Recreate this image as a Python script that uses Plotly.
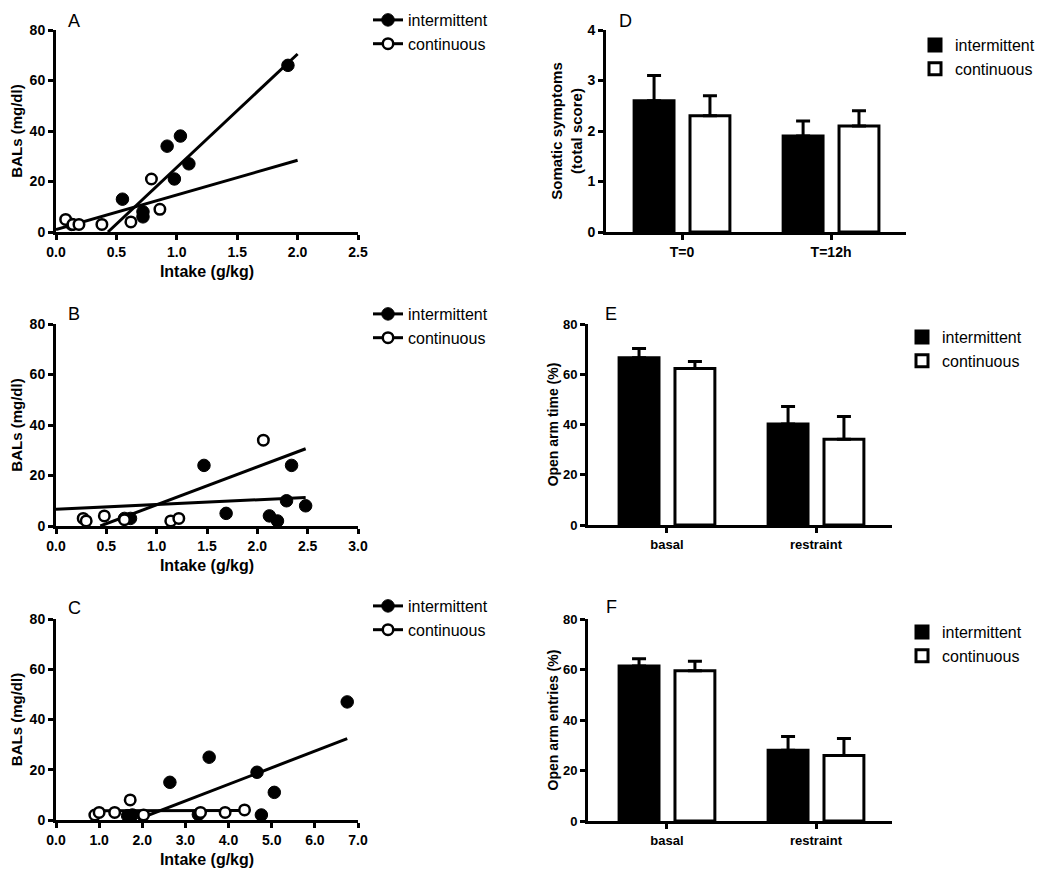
import plotly.graph_objects as go

FONT = "Liberation Sans, Arial, Helvetica, sans-serif"
W, H = 1050, 875
OFF = 8  # page body margin offset

# ---------------- data ----------------
series_names = ["intermittent", "continuous"]

# Panel A
A_int_x = [0.13, 0.55, 0.72, 0.72, 0.92, 0.98, 1.03, 1.10, 1.92]
A_int_y = [3, 13, 8, 6, 34, 21, 38, 27, 66]
A_con_x = [0.08, 0.14, 0.19, 0.38, 0.62, 0.79, 0.86]
A_con_y = [5, 3, 3, 3, 4, 21, 9]
A_int_fit_x = [0.43, 2.0]
A_int_fit_y = [0.0, 70.5]
A_con_fit_x = [0.0, 2.0]
A_con_fit_y = [1.0, 28.4]

# Panel B
B_int_x = [0.68, 0.74, 1.47, 1.69, 2.12, 2.20, 2.29, 2.34, 2.48]
B_int_y = [3, 3, 24, 5, 4, 2, 10, 24, 8]
B_con_x = [0.27, 0.30, 0.48, 0.68, 1.14, 1.22, 2.06]
B_con_y = [3, 2, 4, 2.5, 2, 3, 34]
B_int_fit_x = [0.0, 2.48]
B_int_fit_y = [6.6, 11.3]
B_con_fit_x = [0.44, 2.48]
B_con_fit_y = [0.0, 30.6]

# Panel C
C_int_x = [1.66, 1.77, 2.64, 3.30, 3.55, 4.66, 4.76, 5.06, 6.75]
C_int_y = [1.7, 2, 15, 2.2, 25, 19, 2, 11, 47]
C_con_x = [0.90, 1.00, 1.36, 1.72, 2.03, 3.35, 3.92, 4.37]
C_con_y = [2, 3, 3, 8, 2, 3, 3, 4]
C_int_fit_x = [1.9, 6.75]
C_int_fit_y = [0.3, 32.4]
C_con_fit_x = [0.9, 4.37]
C_con_fit_y = [3.7, 3.8]

# Panel D
D_cats = ["T=0", "T=12h"]
D_int = [2.6, 1.9]
D_int_err = [0.5, 0.3]
D_con = [2.3, 2.1]
D_con_err = [0.4, 0.3]

# Panels E, F
EF_cats = ["basal", "restraint"]
E_int = [66.6, 40.2]
E_int_err = [3.6, 7.0]
E_con = [62.3, 34.1]
E_con_err = [2.8, 9.1]
F_int = [61.4, 28.0]
F_int_err = [2.9, 5.5]
F_con = [59.5, 25.9]
F_con_err = [3.8, 6.8]

# ---------------- helpers ----------------
def fx(p):
    return (p - OFF) / W

def fy(p):
    return 1 - (p - OFF) / H

def dx(a, b):
    return [fx(a), fx(b)]

def dy(top, bottom):
    return [fy(bottom), fy(top)]

fig = go.Figure()

marker_int = dict(symbol="circle", size=12.5, color="black", line=dict(color="black", width=1))
marker_con = dict(symbol="circle", size=10.5, color="white", line=dict(color="black", width=2.5))

scatter_panels = [
    dict(n="", ix=A_int_x, iy=A_int_y, cx=A_con_x, cy=A_con_y,
         ifx=A_int_fit_x, ify=A_int_fit_y, cfx=A_con_fit_x, cfy=A_con_fit_y,
         xr=[0, 2.5], xd=0.5, domx=(56, 358), domy=(30, 232), leg=(368, 3)),
    dict(n="2", ix=B_int_x, iy=B_int_y, cx=B_con_x, cy=B_con_y,
         ifx=B_int_fit_x, ify=B_int_fit_y, cfx=B_con_fit_x, cfy=B_con_fit_y,
         xr=[0, 3.0], xd=0.5, domx=(56, 358), domy=(324, 526), leg=(368, 297)),
    dict(n="3", ix=C_int_x, iy=C_int_y, cx=C_con_x, cy=C_con_y,
         ifx=C_int_fit_x, ify=C_int_fit_y, cfx=C_con_fit_x, cfy=C_con_fit_y,
         xr=[0, 7.0], xd=1.0, domx=(56, 358), domy=(619, 820), leg=(368, 589)),
]

letter_pos = {"A": (74, 21), "B": (74, 314), "C": (74, 608),
              "D": (625, 21), "E": (611, 314), "F": (611, 607)}

axis_common = dict(showline=True, linewidth=3, linecolor="black", showgrid=False,
                   zeroline=False, ticks="outside", ticklen=5, tickwidth=2.5,
                   tickcolor="black", mirror=False, automargin=False,
                   tickfont=dict(family=FONT, size=14, color="black", weight="bold"))

legends = {}
for p in scatter_panels:
    n = p["n"]
    xa, ya = "x" + n, "y" + n
    lg = "legend" + n
    # fit lines
    fig.add_trace(go.Scatter(x=p["ifx"], y=p["ify"], mode="lines", xaxis=xa, yaxis=ya,
                             line=dict(color="black", width=3), showlegend=False,
                             hoverinfo="skip"))
    fig.add_trace(go.Scatter(x=p["cfx"], y=p["cfy"], mode="lines", xaxis=xa, yaxis=ya,
                             line=dict(color="black", width=3), showlegend=False,
                             hoverinfo="skip"))
    # points
    fig.add_trace(go.Scatter(x=p["ix"], y=p["iy"], mode="markers", xaxis=xa, yaxis=ya,
                             marker=marker_int, showlegend=False, cliponaxis=False,
                             name=series_names[0]))
    fig.add_trace(go.Scatter(x=p["cx"], y=p["cy"], mode="markers", xaxis=xa, yaxis=ya,
                             marker=marker_con, showlegend=False, cliponaxis=False,
                             name=series_names[1]))
    # legend entries (line + marker)
    fig.add_trace(go.Scatter(x=[None], y=[None], mode="lines+markers", xaxis=xa, yaxis=ya,
                             marker=marker_int, line=dict(color="black", width=3),
                             name=series_names[0], legend=lg))
    fig.add_trace(go.Scatter(x=[None], y=[None], mode="lines+markers", xaxis=xa, yaxis=ya,
                             marker=marker_con, line=dict(color="black", width=3),
                             name=series_names[1], legend=lg))

    fig.update_layout({
        "xaxis" + n: dict(axis_common, domain=dx(*p["domx"]), range=p["xr"], dtick=p["xd"],
                          tick0=0, tickformat=".1f", anchor=ya,
                          title=dict(text="Intake (g/kg)", standoff=8,
                                     font=dict(family=FONT, size=16, color="black", weight="bold"))),
        "yaxis" + n: dict(axis_common, domain=dy(*p["domy"]), range=[0, 80], dtick=20,
                          tick0=0, anchor=xa,
                          title=dict(text="BALs (mg/dl)", standoff=8,
                                     font=dict(family=FONT, size=15, color="black", weight="bold"))),
    })
    legends[lg] = dict(x=fx(p["leg"][0]), y=fy(p["leg"][1]), xanchor="left", yanchor="top",
                       bgcolor="rgba(0,0,0,0)", tracegroupgap=0,
                       font=dict(family=FONT, size=16, color="black"))

bar_panels = [
    dict(n="4", cats=D_cats, vi=D_int, ei=D_int_err, vc=D_con, ec=D_con_err,
         yr=[0, 4], yd=1, xr=[-0.51, 1.503], domx=(606, 906), domy=(30, 232),
         ytitle="Somatic symptoms<br>(total score)", ytsize=15, leg=(915, 28)),
    dict(n="5", cats=EF_cats, vi=E_int, ei=E_int_err, vc=E_con, ec=E_con_err,
         yr=[0, 80], yd=20, xr=[-0.53, 1.51], domx=(588, 892), domy=(324, 525),
         ytitle="Open arm time (%)", ytsize=14, leg=(902, 320)),
    dict(n="6", cats=EF_cats, vi=F_int, ei=F_int_err, vc=F_con, ec=F_con_err,
         yr=[0, 80], yd=20, xr=[-0.53, 1.51], domx=(588, 892), domy=(619, 821),
         ytitle="Open arm entries (%)", ytsize=14, leg=(902, 615)),
]

for p in bar_panels:
    n = p["n"]
    xa, ya = "x" + n, "y" + n
    lg = "legend" + n
    fig.add_trace(go.Bar(x=p["cats"], y=p["vi"], xaxis=xa, yaxis=ya, name=series_names[0],
                         marker=dict(color="black", line=dict(color="black", width=3)),
                         error_y=dict(type="data", array=p["ei"], arrayminus=[0] * len(p["ei"]),
                                      symmetric=False, color="black", thickness=3, width=7),
                         legend=lg))
    fig.add_trace(go.Bar(x=p["cats"], y=p["vc"], xaxis=xa, yaxis=ya, name=series_names[1],
                         marker=dict(color="white", line=dict(color="black", width=3)),
                         error_y=dict(type="data", array=p["ec"], arrayminus=[0] * len(p["ec"]),
                                      symmetric=False, color="black", thickness=3, width=7),
                         legend=lg))
    tsz = 14 if n == "4" else 13
    fig.update_layout({
        "xaxis" + n: dict(axis_common, domain=dx(*p["domx"]), range=p["xr"], anchor=ya,
                          type="category",
                          tickfont=dict(family=FONT, size=tsz, color="black", weight="bold")),
        "yaxis" + n: dict(axis_common, domain=dy(*p["domy"]), range=p["yr"], dtick=p["yd"],
                          tick0=0, anchor=xa,
                          tickfont=dict(family=FONT, size=tsz, color="black", weight="bold"),
                          title=dict(text=p["ytitle"], standoff=2,
                                     font=dict(family=FONT, size=p["ytsize"], color="black",
                                               weight="bold"))),
    })
    legends[lg] = dict(x=fx(p["leg"][0]), y=fy(p["leg"][1]), xanchor="left", yanchor="top",
                       bgcolor="rgba(0,0,0,0)", tracegroupgap=0,
                       font=dict(family=FONT, size=16, color="black"))

annotations = []
for letter, (lx, ly) in letter_pos.items():
    annotations.append(dict(text=letter, x=fx(lx), y=fy(ly), xref="paper", yref="paper",
                            xanchor="center", yanchor="middle", showarrow=False,
                            font=dict(family=FONT, size=18, color="black")))

fig.update_layout(
    width=W, height=H,
    margin=dict(l=0, r=0, t=0, b=0, autoexpand=False),
    paper_bgcolor="white", plot_bgcolor="white",
    barmode="group", bargap=0.25, bargroupgap=0.286,
    font=dict(family=FONT, color="black"),
    annotations=annotations,
    **legends,
)

fig.write_html("out.html")
